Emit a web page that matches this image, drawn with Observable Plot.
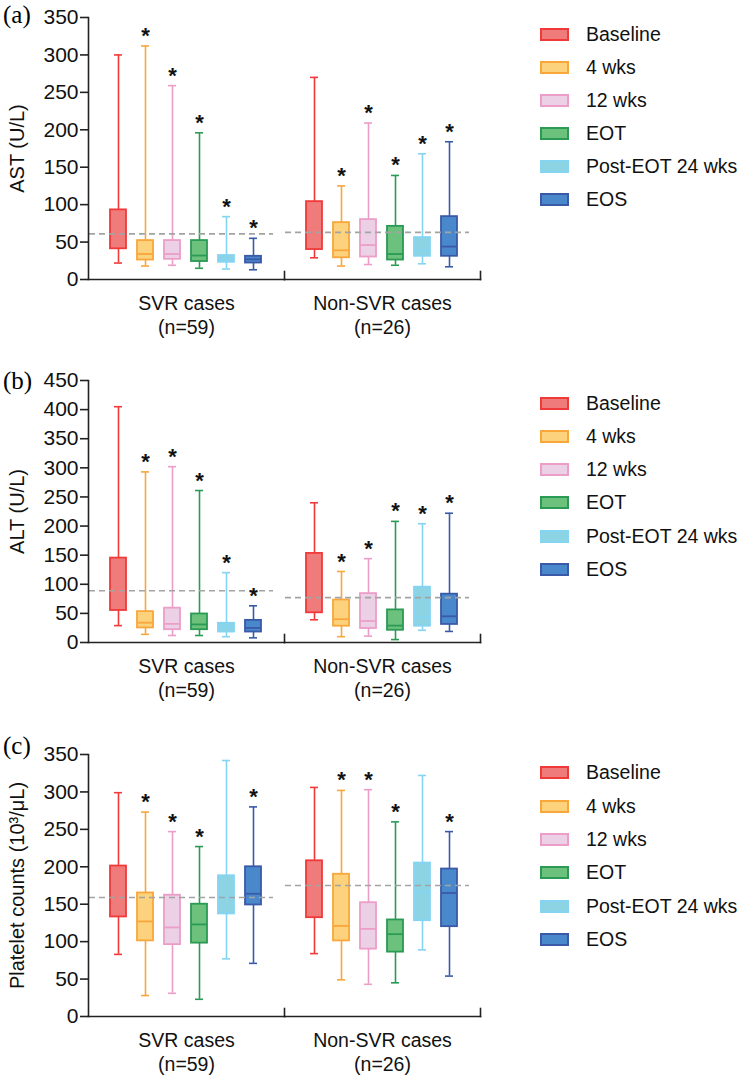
<!DOCTYPE html>
<html><head><meta charset="utf-8">
<script src="https://cdn.jsdelivr.net/npm/d3@7"></script>
<script src="https://cdn.jsdelivr.net/npm/@observablehq/plot@0.6"></script>
<style>
body{margin:0;background:#fff;font-family:"Liberation Sans",Arial,sans-serif;}
#root{position:relative;width:745px;height:1077px;overflow:hidden;}
.panel{position:absolute;left:0;}
.plabel{position:absolute;left:3px;font-family:"Liberation Serif","Times New Roman",serif;font-size:25px;line-height:25px;color:#000;}
.item{position:absolute;left:540px;height:24px;display:flex;align-items:center;font-size:19.5px;color:#111;white-space:nowrap;}
.sw{width:25px;height:9px;border:2px solid;margin-right:17px;}
</style></head>
<body><div id="root"></div>
<script>
// ---- categories ----
const groups = ["SVR cases", "Non-SVR cases"];
const groupLabels = ["SVR cases\n(n=59)", "Non-SVR cases\n(n=26)"];
const timepoints = ["Baseline", "4 wks", "12 wks", "EOT", "Post-EOT 24 wks", "EOS"];
const fills = ["#f07b7b", "#fdd27c", "#ecd0e6", "#6cc27c", "#8cd3e4", "#4a88cc"];
const strokes = ["#f03a3a", "#f9a63a", "#ec9ec8", "#2a9a54", "#84d4f2", "#3a5aa8"];

// ---- box statistics: [min, q1, median, q3, max] per timepoint ----
const astSVR = [[22,41,61,93,300],[18,26,34,52,312],[19,27,34,52,259],[15,24,32,52,196],[14,23,28,32,84],[13,22,27,31,55]];
const astNonSVR = [[29,40,63,104,270],[18,29,39,76,125],[20,30,46,80,209],[19,26,34,71,139],[21,31,39,56,168],[17,31,44,84,184]];
const altSVR = [[29,55,89,145,405],[14,25,34,53,293],[12,22,32,59,302],[12,22,31,49,261],[10,18,27,33,120],[8,18,25,38,63]];
const altNonSVR = [[39,51,77,153,240],[10,28,40,73,122],[11,24,37,84,144],[5,21,29,56,208],[21,28,44,95,204],[19,31,45,83,222]];
const pltSVR = [[83,133,159,201,299],[28,101,127,165,273],[31,96,119,162,247],[23,98,123,150,227],[77,137,160,188,342],[71,149,164,200,280]];
const pltNonSVR = [[84,132,175,208,306],[49,101,121,190,302],[43,90,117,152,303],[45,86,110,129,260],[89,128,166,205,322],[54,120,165,197,247]];

// ---- significance markers (1 = *) ----
const astStars = [0,1,1,1,1,1];
const altStars = [0,1,1,1,1,1];
const pltStars = [0,1,1,1,0,1];

// ---- axis ticks ----
const astTicks = [0,50,100,150,200,250,300,350];
const altTicks = [0,50,100,150,200,250,300,350,400,450];
const pltTicks = [0,50,100,150,200,250,300,350];

function rowsOf(svr, non, stars) {
  const out = [];
  [svr, non].forEach((arr, gi) => arr.forEach((s, ti) => out.push({
    group: groups[gi], time: timepoints[ti], ti,
    min: s[0], q1: s[1], med: s[2], q3: s[3], max: s[4], star: stars[ti]
  })));
  return out;
}

function makePanel({rows, ticks, label, height, marginTop, marginBottom}) {
  const plotH = height - marginTop - marginBottom;
  const fillOf = d => fills[d.ti], strokeOf = d => strokes[d.ti];
  return Plot.plot({
    width: 520, height, marginLeft: 87, marginRight: 40, marginTop, marginBottom,
    style: {fontFamily: "'Liberation Sans', Arial, sans-serif", fontSize: "19px", color: "#111", background: "#fff", overflow: "visible"},
    fx: {domain: groups, padding: 0},
    x: {domain: timepoints, paddingInner: 0.39, paddingOuter: 0.7, axis: null},
    y: {domain: [ticks[0], ticks[ticks.length - 1]]},
    color: {type: "identity"},
    marks: [
      Plot.ruleX(rows, {fx: "group", x: "time", y1: "min", y2: "max", stroke: strokeOf, strokeWidth: 1.6}),
      Plot.tickY(rows, {fx: "group", x: "time", y: "min", stroke: strokeOf, strokeWidth: 1.6, insetLeft: 4, insetRight: 4}),
      Plot.tickY(rows, {fx: "group", x: "time", y: "max", stroke: strokeOf, strokeWidth: 1.6, insetLeft: 4, insetRight: 4}),
      Plot.rectY(rows, {fx: "group", x: "time", y1: "q1", y2: "q3", fill: fillOf, stroke: strokeOf, strokeWidth: 1.8}),
      Plot.tickY(rows.filter(d => d.ti > 0), {fx: "group", x: "time", y: "med", stroke: strokeOf, strokeWidth: 1.8}),
      Plot.ruleY(rows.filter(d => d.ti === 0), {fx: "group", y: "med", stroke: "#a3a3a3", strokeWidth: 1.6, strokeDasharray: "6,4", insetLeft: 1, insetRight: 11}),
      Plot.text(rows.filter(d => d.star), {fx: "group", x: "time", y: "max", text: () => "*", dy: -10, fontSize: 22, fontWeight: "bold", fill: "#111"}),
      Plot.frame({anchor: "left", facetAnchor: "left", stroke: "#222", strokeWidth: 1.6}),
      Plot.frame({anchor: "bottom", stroke: "#222", strokeWidth: 1.6}),
      Plot.frame({anchor: "right", stroke: "#222", strokeWidth: 1.6, insetTop: plotH - 8}),
      Plot.axisY({ticks, tickSize: 8, tickPadding: 2, strokeWidth: 1.6, stroke: "#222", fontSize: 21, tickFormat: d => String(d),
        label: null}),
      Plot.axisY({ticks: [], tickSize: 0, label, labelAnchor: "center", labelOffset: 79, labelArrow: "none", fontSize: 20}),
      Plot.axisFx({anchor: "bottom", tickSize: 0, tickPadding: 13, fontSize: 19.5, lineHeight: 1.25, label: null,
        tickFormat: d => groupLabels[groups.indexOf(d)]})
    ]
  });
}

const root = document.getElementById("root");
const panels = [
  {top: 0, letter: "(a)", labelTop: 2, legendY: [34,67,100,133,166,199],
   cfg: {rows: rowsOf(astSVR, astNonSVR, astStars), ticks: astTicks, label: "AST (U/L)", height: 345, marginTop: 17, marginBottom: 66}},
  {top: 345, letter: "(b)", labelTop: 368, legendY: [403,436,469,502,536,569],
   cfg: {rows: rowsOf(altSVR, altNonSVR, altStars), ticks: altTicks, label: "ALT (U/L)", height: 375, marginTop: 35, marginBottom: 78}},
  {top: 720, letter: "(c)", labelTop: 733, legendY: [772,806,839,872,906,939],
   cfg: {rows: rowsOf(pltSVR, pltNonSVR, pltStars), ticks: pltTicks, label: "Platelet counts (10³/μL)", height: 357, marginTop: 34, marginBottom: 61}}
];
for (const p of panels) {
  const div = document.createElement("div");
  div.className = "panel"; div.style.top = p.top + "px";
  div.appendChild(makePanel(p.cfg));
  root.appendChild(div);
  const lab = document.createElement("div");
  lab.className = "plabel"; lab.style.top = p.labelTop + "px"; lab.textContent = p.letter;
  root.appendChild(lab);
  timepoints.forEach((t, i) => {
    const it = document.createElement("div");
    it.className = "item"; it.style.top = (p.legendY[i] - 12) + "px";
    const sw = document.createElement("div");
    sw.className = "sw"; sw.style.background = fills[i]; sw.style.borderColor = strokes[i];
    const tx = document.createElement("span"); tx.textContent = t;
    it.appendChild(sw); it.appendChild(tx);
    root.appendChild(it);
  });
}
</script></body></html>
